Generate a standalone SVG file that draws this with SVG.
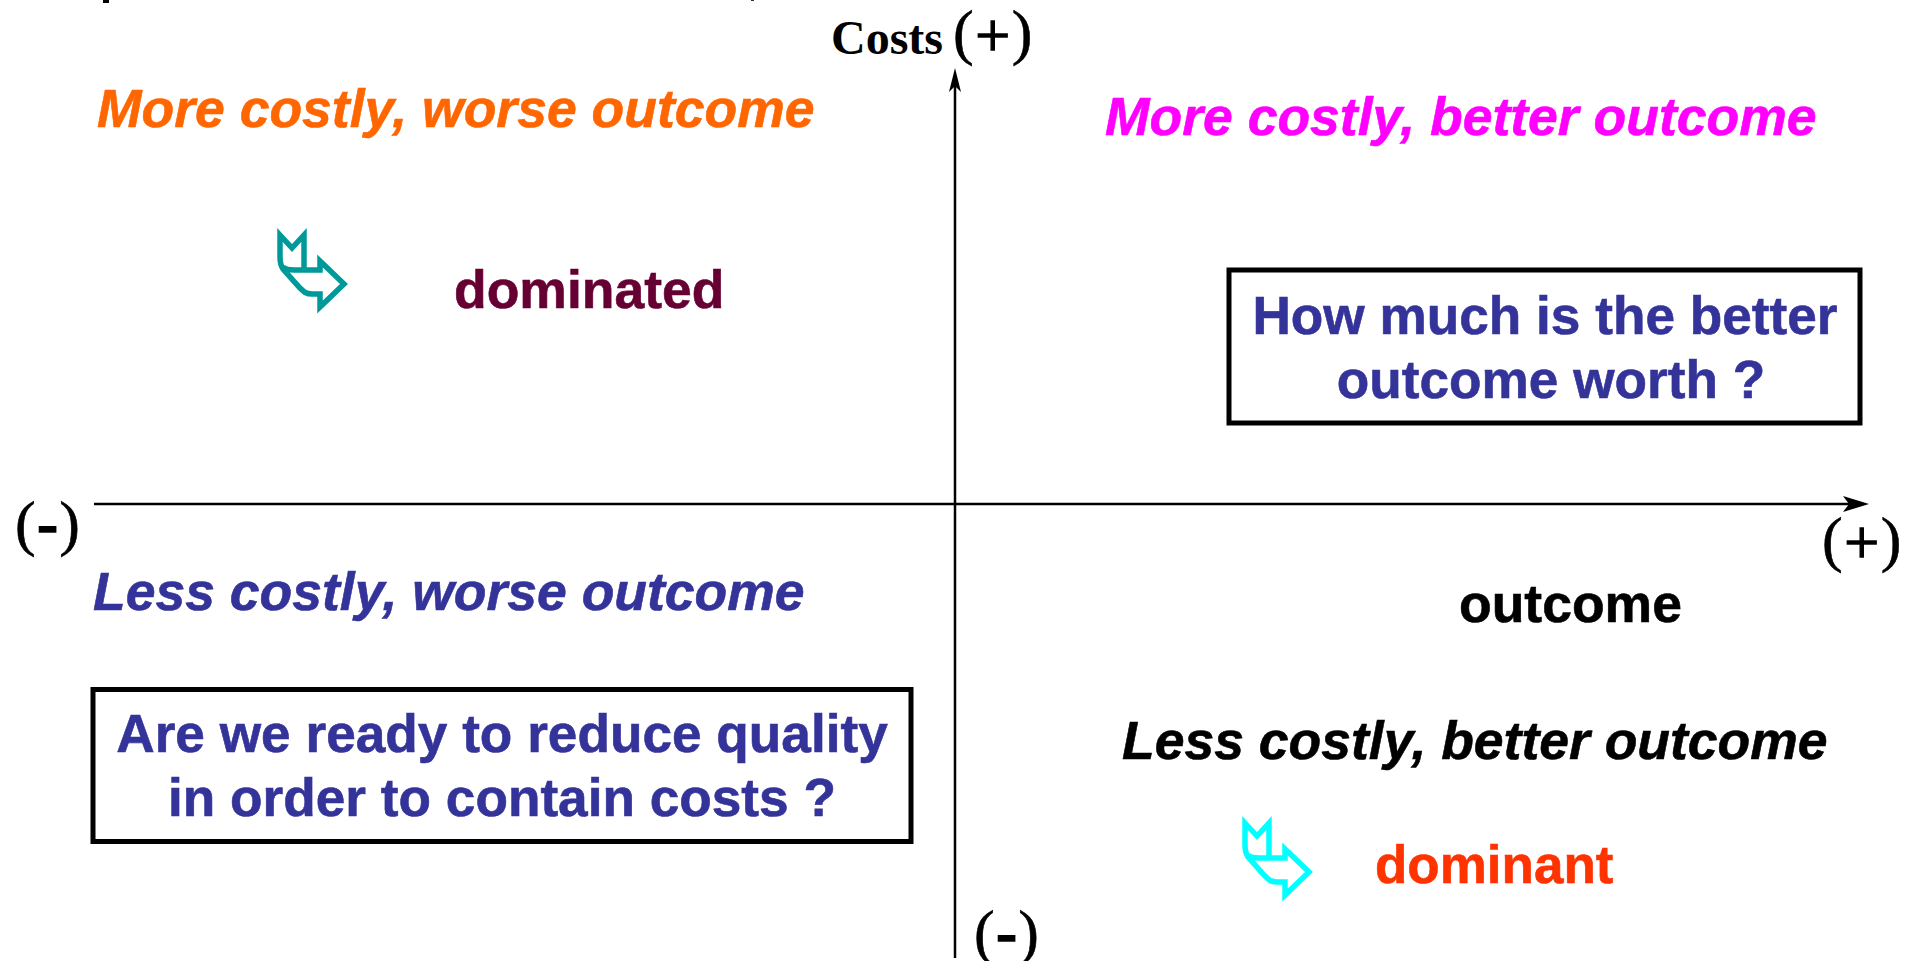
<svg xmlns="http://www.w3.org/2000/svg" width="1907" height="961" viewBox="0 0 1907 961">
<style>
text{font-family:"Liberation Sans",Arial,sans-serif;font-weight:700;stroke-width:.6}
.h{font-size:53.5px;font-style:italic}
.b{font-size:53.2px;fill:#333399;stroke:#333399;text-anchor:middle}
.s{font-family:"Liberation Serif","Times New Roman",serif;font-size:62px;font-weight:400;letter-spacing:1.5px;stroke:#000}
.hy{font-weight:700;stroke-width:1.6px}
.pl{stroke-width:1.4px}
.box{fill:none;stroke:#000;stroke-width:5}
.ax{stroke:#000;stroke-width:2.5;fill:none}
.chev{fill:none;stroke-width:5.5;stroke-miterlimit:10}
</style>
<defs>
<path id="chev" class="chev" d="M0 2L12 15L24 2V37H40V28L64 51L40 74V61H32C26 61 24 59 20 55L3 36C1 33 0 31 0 24Z M3 34C6 37 9 37 14 37H24"/>
</defs>
<rect width="1907" height="961" fill="#fff"/>
<g id="axes">
<path class="ax" d="M955 958V78"/>
<path d="M955 68L961 92L955 86L949 92Z" fill="#000"/>
<path class="ax" d="M94 504H1855"/>
<path d="M1869 504L1843 512L1849 504L1843 496Z" fill="#000"/>
</g>
<g id="title-fragment"><rect x="103" y="0" width="6" height="3" fill="#000"/><rect x="751" y="0" width="3" height="1" fill="#333"/></g>
<g id="costs"><text x="831" y="54" font-size="48" style="font-family:'Liberation Serif',serif">Costs</text><text class="s" x="953" y="53">(<tspan class="pl" dy="3">+</tspan><tspan dy="-3">)</tspan></text></g>
<g id="q1"><text class="h" x="97" y="127" fill="#ff6600" stroke="#ff6600">More costly, worse outcome</text></g>
<g id="q2"><text class="h" x="1105" y="135" fill="#ff00ff" stroke="#ff00ff">More costly, better outcome</text></g>
<g id="q3"><text class="h" x="93" y="610" fill="#333399" stroke="#333399">Less costly, worse outcome</text></g>
<g id="q4"><text class="h" x="1122" y="759" fill="#000" stroke="#000">Less costly, better outcome</text></g>
<g id="dominated"><use href="#chev" x="280" y="233" stroke="#009999"/><text x="454" y="308" font-size="53.5" fill="#660033" stroke="#660033">dominated</text></g>
<g id="dominant"><use href="#chev" x="1245" y="821" stroke="#00ffff"/><text x="1375" y="883" font-size="53" fill="#ff3300" stroke="#ff3300">dominant</text></g>
<g id="box-right"><rect class="box" x="1229" y="270" width="631" height="153"/><text class="b" x="1545" y="334">How much is the better</text><text class="b" x="1551" y="398">outcome worth ?</text></g>
<g id="box-left"><rect class="box" x="93" y="689.5" width="818" height="152"/><text class="b" x="502" y="752">Are we ready to reduce quality</text><text class="b" x="502" y="816">in order to contain costs ?</text></g>
<g id="outcome"><text x="1459" y="622" font-size="53.5" stroke="#000">outcome</text></g>
<g id="minus-left"><text class="s" x="15" y="544">(<tspan class="hy">-</tspan>)</text></g>
<g id="plus-right"><text class="s" x="1822" y="560">(<tspan class="pl" dy="3">+</tspan><tspan dy="-3">)</tspan></text></g>
<g id="minus-bottom"><text class="s" x="974" y="953">(<tspan class="hy">-</tspan>)</text></g>
</svg>
